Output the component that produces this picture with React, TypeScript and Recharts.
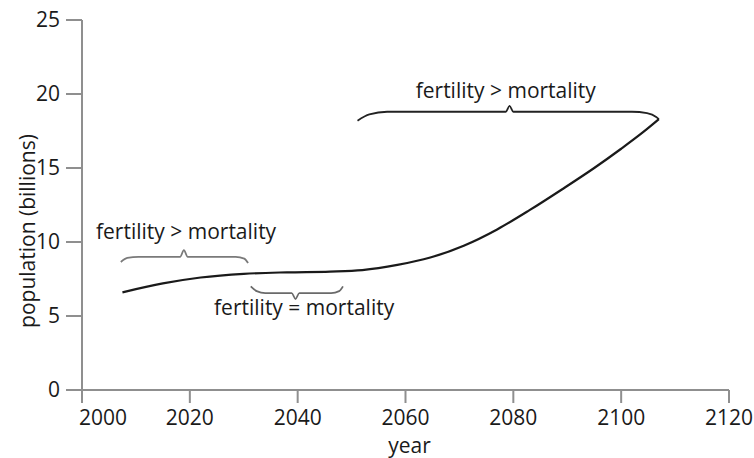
import React from 'react';
import { LineChart, Line, XAxis, YAxis, ReferenceDot } from 'recharts';

// population projection (billions)
const curvePoints = [
  [2007.5, 6.6], [2015, 7.2], [2022, 7.6], [2030, 7.85], [2038, 7.95], [2046, 8.0],
  [2052, 8.1], [2058.5, 8.45], [2064.6, 8.95], [2070.8, 9.75], [2077, 10.85], [2083, 12.15],
  [2089, 13.55], [2095, 15.0], [2100, 16.3], [2104, 17.4], [2107, 18.3],
];
const collapsePoints = [[2107.5, 0], [2120, 0]];

// curly braces, in data units
const braceEarly = [
  [2007.2, 8.65], [2008.4, 8.92], [2010.5, 9.0], [2018.2, 9.0], [2018.9, 9.45],
  [2019.6, 9.0], [2028.5, 9.0], [2030.1, 8.88], [2030.8, 8.58],
];
const braceMiddle = [
  [2031.3, 7.0], [2032.4, 6.68], [2034, 6.55], [2038.9, 6.55], [2039.6, 6.15],
  [2040.3, 6.55], [2046.2, 6.55], [2047.7, 6.68], [2048.4, 7.0],
];
const braceLate = [
  [2051.1, 18.2], [2053.3, 18.62], [2056.6, 18.8], [2078.6, 18.8], [2079.3, 19.2],
  [2080, 18.8], [2102, 18.8], [2104.8, 18.7], [2106.5, 18.45], [2107, 18.3],
];

const annotations = [
  { text: 'fertility > mortality', year: 2019.3, pop: 10.2 },
  { text: 'fertility = mortality', year: 2041.2, pop: 5.07 },
  { text: 'fertility > mortality', year: 2078.6, pop: 19.73 },
];

const xTicks = [2000, 2020, 2040, 2060, 2080, 2100, 2120];
const yTicks = [0, 5, 10, 15, 20, 25];

const toRows = (pts: number[][]) => pts.map(([year, pop]) => ({ year, pop }));

const FONT = '"Open Sans", sans-serif';
const AXIS = '#8f8f8f';
const INK = '#1a1a1a';

const XTick = ({ x, y, payload }: any) => (
  <text
    x={payload.value === 2000 ? x + 21 : x}
    y={y}
    dy="0.71em"
    textAnchor="middle"
    fontFamily={FONT}
    fontSize={21}
    fill={INK}
  >
    {payload.value}
  </text>
);

const YTitle = ({ viewBox }: any) => (
  <text
    transform={`translate(${viewBox.x + 35}, ${viewBox.y + viewBox.height / 2 + 26}) rotate(-90)`}
    textAnchor="middle"
    fontFamily={FONT}
    fontSize={21}
    fill={INK}
  >
    population (billions)
  </text>
);

export default function App() {
  return (
    <div style={{ position: 'absolute', left: 0, top: 0, width: 754, height: 458, background: '#fff' }}>
      <LineChart width={754} height={458} margin={{ top: 20, right: 25, bottom: 0, left: 0 }}>
        <XAxis
          type="number"
          dataKey="year"
          domain={[2000, 2120]}
          ticks={xTicks}
          stroke={AXIS}
          strokeWidth={2}
          tickSize={13}
          tickMargin={7}
          height={68}
          tick={<XTick />}
          label={{ value: 'year', position: 'insideBottom', offset: 5, dx: 4, fontFamily: FONT, fontSize: 21, fill: INK }}
        />
        <YAxis
          type="number"
          dataKey="pop"
          domain={[0, 25]}
          ticks={yTicks}
          width={82}
          stroke={AXIS}
          strokeWidth={2}
          tickSize={16}
          tickMargin={6}
          tick={{ fontFamily: FONT, fontSize: 21, fill: INK }}
          label={YTitle}
        />
        <Line data={toRows(braceEarly)} dataKey="pop" type="monotone" stroke="#7a7a7a" strokeWidth={1.8} dot={false} isAnimationActive={false} />
        <Line data={toRows(braceMiddle)} dataKey="pop" type="monotone" stroke="#6a6a6a" strokeWidth={1.8} dot={false} isAnimationActive={false} />
        <Line data={toRows(braceLate)} dataKey="pop" type="monotone" stroke="#222" strokeWidth={1.8} dot={false} isAnimationActive={false} />
        <Line data={toRows(curvePoints)} dataKey="pop" type="monotone" stroke={INK} strokeWidth={2.2} dot={false} isAnimationActive={false} />
        <Line data={toRows(collapsePoints)} dataKey="pop" type="linear" stroke={INK} strokeWidth={2.2} dot={false} isAnimationActive={false} />
        {annotations.map((a, i) => (
          <ReferenceDot
            key={i}
            x={a.year}
            y={a.pop}
            r={0}
            shape={(p: any) => (
              <text x={p.cx} y={p.cy} textAnchor="middle" fontFamily={FONT} fontSize={21} fill={INK}>
                {a.text}
              </text>
            )}
          />
        ))}
      </LineChart>
    </div>
  );
}
